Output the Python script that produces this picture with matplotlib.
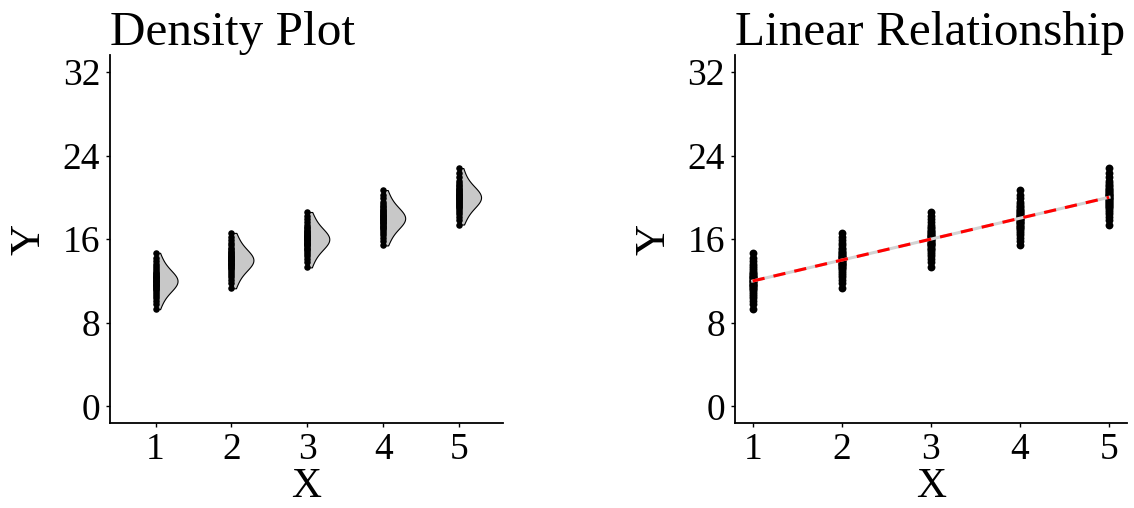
import numpy as np
import matplotlib.pyplot as plt

# data
x_levels = [1, 2, 3, 4, 5]
y_g1 = [9.3, 9.8, 10.1, 10.4, 10.6, 10.8, 10.95, 11.1, 11.2, 11.3, 11.4, 11.5, 11.58, 11.66,
        11.74, 11.82, 11.9, 11.97, 12.03, 12.1, 12.18, 12.26, 12.34, 12.42, 12.5, 12.6, 12.7,
        12.8, 12.9, 13.05, 13.2, 13.4, 13.6, 13.9, 14.2, 14.7]
y_g2 = [11.3, 11.8, 12.1, 12.4, 12.6, 12.8, 12.95, 13.1, 13.2, 13.3, 13.4, 13.5, 13.58, 13.66,
        13.74, 13.82, 13.9, 13.97, 14.03, 14.1, 14.18, 14.26, 14.34, 14.42, 14.5, 14.6, 14.7,
        14.8, 14.9, 15.05, 15.2, 15.4, 15.6, 15.9, 16.2, 16.6]
y_g3 = [13.3, 13.8, 14.1, 14.4, 14.6, 14.8, 14.95, 15.1, 15.2, 15.3, 15.4, 15.5, 15.58, 15.66,
        15.74, 15.82, 15.9, 15.97, 16.03, 16.1, 16.18, 16.26, 16.34, 16.42, 16.5, 16.6, 16.7,
        16.8, 16.9, 17.05, 17.2, 17.4, 17.6, 17.9, 18.2, 18.6]
y_g4 = [15.4, 15.8, 16.1, 16.4, 16.6, 16.8, 16.95, 17.1, 17.2, 17.3, 17.4, 17.5, 17.58, 17.66,
        17.74, 17.82, 17.9, 17.97, 18.03, 18.1, 18.18, 18.26, 18.34, 18.42, 18.5, 18.6, 18.7,
        18.8, 18.9, 19.05, 19.2, 19.4, 19.6, 19.9, 20.2, 20.7]
y_g5 = [17.4, 17.8, 18.1, 18.4, 18.6, 18.8, 18.95, 19.1, 19.2, 19.3, 19.4, 19.5, 19.58, 19.66,
        19.74, 19.82, 19.9, 19.97, 20.03, 20.1, 20.18, 20.26, 20.34, 20.42, 20.5, 20.6, 20.7,
        20.8, 20.9, 21.05, 21.2, 21.4, 21.6, 21.9, 22.3, 22.8]
groups = [y_g1, y_g2, y_g3, y_g4, y_g5]
y_ticks = [0, 8, 16, 24, 32]

plt.rcParams['font.family'] = ['Liberation Serif', 'DejaVu Serif']

fig = plt.figure(figsize=(11.34, 5.08), dpi=100)
ax1 = fig.add_axes([0.097, 0.167, 0.3466, 0.7244])
ax2 = fig.add_axes([0.648, 0.167, 0.3457, 0.7244])


def kde(vals, grid):
    vals = np.asarray(vals)
    bw = 1.06 * vals.std() * len(vals) ** (-0.2)
    d = np.exp(-0.5 * ((grid[:, None] - vals[None, :]) / bw) ** 2).sum(axis=1)
    return d / d.max()


# left panel: half violins + points
for xv, ys in zip(x_levels, groups):
    grid = np.linspace(min(ys), max(ys), 200)
    dens = kde(ys, grid)
    x0 = xv + 0.02
    ax1.fill_betweenx(grid, x0, x0 + 0.27 * dens, facecolor='#C8C8C8',
                      edgecolor='black', linewidth=0.8, zorder=2)
    ax1.scatter([xv] * len(ys), ys, s=22, color='black', zorder=3, linewidths=0)

# right panel: points + fitted line
all_x = np.concatenate([[xv] * len(ys) for xv, ys in zip(x_levels, groups)])
all_y = np.concatenate(groups)
for xv, ys in zip(x_levels, groups):
    ax2.scatter([xv] * len(ys), ys, s=32, color='black', zorder=2, linewidths=0)
slope, icept = np.polyfit(all_x, all_y, 1)
xl = np.array([1, 5])
ax2.plot(xl, icept + slope * xl, color='#D3D3D3', linewidth=2.2, zorder=3)
ax2.plot(xl, icept + slope * xl, color='red', linewidth=2.2, linestyle=(0, (4, 3)), zorder=4)

for ax, title, xlim in [(ax1, 'Density Plot', (0.4, 5.58)), (ax2, 'Linear Relationship', (0.8, 5.2))]:
    ax.set_xlim(*xlim)
    ax.set_ylim(-1.6, 33.6)
    ax.set_xticks(x_levels)
    ax.set_yticks(y_ticks)
    ax.spines['top'].set_visible(False)
    ax.spines['right'].set_visible(False)
    ax.spines['left'].set_linewidth(1.3)
    ax.spines['bottom'].set_linewidth(1.3)
    ax.tick_params(labelsize=27, length=3, width=1, pad=4)
    ax.set_title(title, fontsize=35.5, loc='left', pad=2)
    ax.set_xlabel('X', fontsize=30, labelpad=0)
    ax.set_ylabel('Y', fontsize=31, labelpad=10)

fig.savefig('out.png', dpi=100)
